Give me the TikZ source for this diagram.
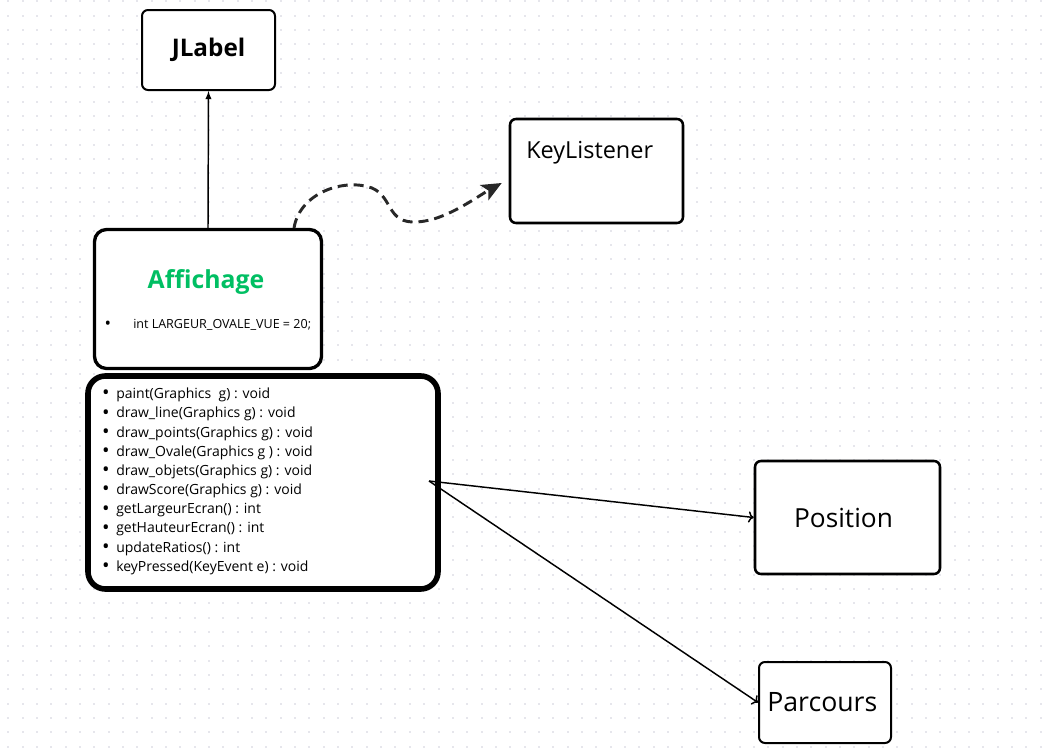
\documentclass[tikz,border=0pt]{standalone}
\usepackage{fontspec}
\setmainfont{Open Sans}
\usetikzlibrary{arrows,arrows.meta,positioning}
\definecolor{affgreen}{RGB}{0,191,99}
\definecolor{dotgray}{RGB}{230,230,236}
\definecolor{linkgray}{RGB}{40,40,40}

\tikzset{
  box/.style={draw, fill=white, rounded corners=4.5pt, line width=1.5pt, inner sep=0pt},
  bigbox/.style={box, rounded corners=9pt, line width=2.5pt},
  fatbox/.style={box, rounded corners=13pt, line width=4.2pt},
  link/.style={->, line width=1.1pt},
  wavy/.style={dash pattern=on 7.5pt off 4.5pt, line width=2.2pt, linkgray,
               -{Stealth[length=15pt,width=13pt,inset=3.5pt]}},
  meth/.style={anchor=west, inner sep=0pt, font=\fontsize{10.5}{12}\selectfont},
  dot/.style={anchor=center, inner sep=0pt, font=\fontsize{15}{15}\selectfont}
}

\begin{document}
\begin{tikzpicture}[x=0.75pt, y=-0.75pt]
    \useasboundingbox (0,0) rectangle (1043,753);
    \fill[white] (0,0) rectangle (1043,753);

    % dotted paper
    \foreach \i in {0,...,72} {
        \foreach \j in {0,...,52} {
            \pgfmathsetmacro {\gx}{8.3+\i*14.34}
            \pgfmathsetmacro {\gy}{1.4+\j*14.33}
            \fill[dotgray] (\gx-1,\gy-1) rectangle ++(2,2);
        }
    }

    % classes
    \node[box, minimum width=133*0.75pt, minimum height=80*0.75pt,
          font=\bfseries\fontsize{18.2}{20}\selectfont] (jlabel) at (208.5,50) {JLabel};
    \node[box, line width=1.9pt, minimum width=173*0.75pt, minimum height=104*0.75pt] (keyl) at (596.5,171) {};
    \node[anchor=base west, inner sep=0pt, font=\fontsize{17.6}{20}\selectfont] (keytxt) at (526,158) {KeyListener};
    \node[bigbox, minimum width=227*0.75pt, minimum height=139*0.75pt] (aff) at (208,299) {};
    \node[inner sep=0pt, text=affgreen, font=\bfseries\fontsize{18.6}{20}\selectfont] (afftitle) at (206,282) {Affichage};
    \node[dot, font=\fontsize{13}{13}\selectfont] (attb) at (108,325) {•};
    \node[meth, font=\fontsize{9.4}{11}\selectfont] (attr) at (133,325) {int LARGEUR\_OVALE\_VUE = 20;};
    \node[fatbox, minimum width=350*0.75pt, minimum height=213*0.75pt] (methods) at (263,482.5) {};
    \node[box, line width=1.9pt, minimum width=185*0.75pt, minimum height=113*0.75pt,
          font=\fontsize{19.7}{22}\selectfont] (posi) at (847.5,517.5) {\hspace*{-6pt}Position};
    \node[box, minimum width=132*0.75pt, minimum height=81*0.75pt,
          font=\fontsize{20}{22}\selectfont] (parc) at (825,702.5) {\hspace*{-4pt}Parcours};

    % method list
    \foreach \txt [count=\k] in {paint(Graphics~ g) : void, draw\_line(Graphics g) : void,
            draw\_points(Graphics g) : void, draw\_Ovale(Graphics g ) : void,
            draw\_objets(Graphics g) : void, drawScore(Graphics g) : void,
            getLargeurEcran() : int, getHauteurEcran() : int,
            updateRatios() : int, keyPressed(KeyEvent e) : void} {
        \pgfmathsetmacro {\my}{395+19.2*(\k-1)}
        \node[dot] (b\k) at (106,\my) {•};
        \node[meth] (m\k) at (116,\my) {\txt};
    }

    % connectors
    \draw[-latex, line width=1.1pt] (aff.north) -- (jlabel.south);
    \coordinate (kstart) at (294,228);
    \coordinate (kend) at ([xshift=-7*0.75pt, yshift=-12*0.75pt]keyl.west);
    \draw[wavy] (kstart) .. controls (300,192) and (345,178) .. (372,188)
                .. controls (395,198) and (385,228) .. (425,221)
                .. controls (450,217) and (480,195) .. (kend);
    \coordinate (hub) at (429,481);
    \draw[link] (hub) -- (posi.west);
    \draw[link] (hub) -- (parc.west);
\end{tikzpicture}
\end{document}
